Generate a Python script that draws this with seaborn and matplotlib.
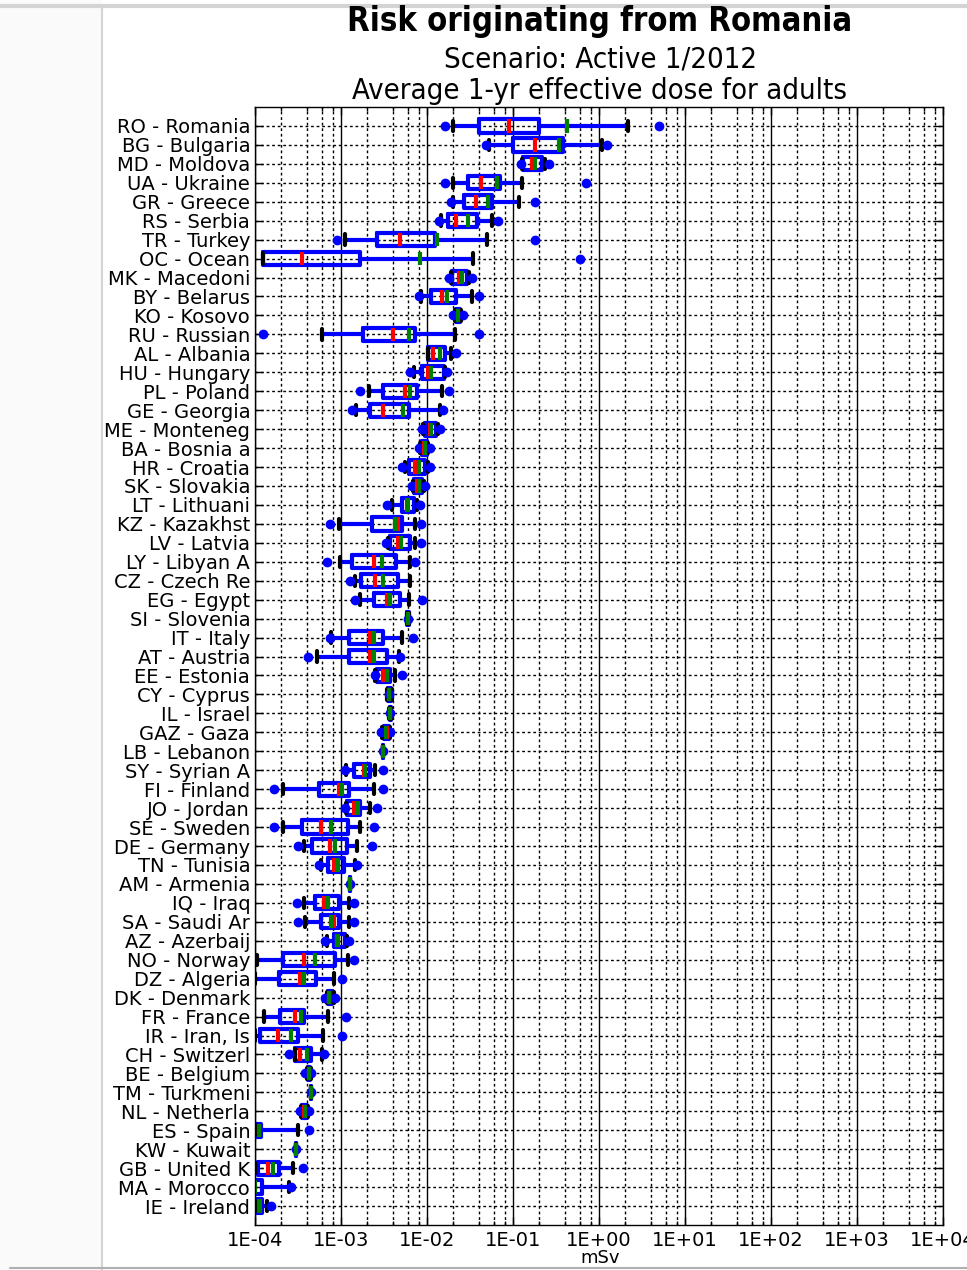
import numpy as np
import matplotlib
matplotlib.use("Agg")
import matplotlib.pyplot as plt
import seaborn as sns
from matplotlib.lines import Line2D
from matplotlib.patches import Rectangle
from matplotlib.ticker import LogLocator, FuncFormatter, NullFormatter

# Countries, top to bottom
labels = [
    "RO - Romania", "BG - Bulgaria", "MD - Moldova", "UA - Ukraine", "GR - Greece",
    "RS - Serbia", "TR - Turkey", "OC - Ocean", "MK - Macedoni", "BY - Belarus",
    "KO - Kosovo", "RU - Russian", "AL - Albania", "HU - Hungary", "PL - Poland",
    "GE - Georgia", "ME - Monteneg", "BA - Bosnia a", "HR - Croatia", "SK - Slovakia",
    "LT - Lithuani", "KZ - Kazakhst", "LV - Latvia", "LY - Libyan A", "CZ - Czech Re",
    "EG - Egypt", "SI - Slovenia", "IT - Italy", "AT - Austria", "EE - Estonia",
    "CY - Cyprus", "IL - Israel", "GAZ - Gaza", "LB - Lebanon", "SY - Syrian A",
    "FI - Finland", "JO - Jordan", "SE - Sweden", "DE - Germany", "TN - Tunisia",
    "AM - Armenia", "IQ - Iraq", "SA - Saudi Ar", "AZ - Azerbaij", "NO - Norway",
    "DZ - Algeria", "DK - Denmark", "FR - France", "IR - Iran, Is", "CH - Switzerl",
    "BE - Belgium", "TM - Turkmeni", "NL - Netherla", "ES - Spain", "KW - Kuwait",
    "GB - United K", "MA - Morocco", "IE - Ireland",
]

# box statistics in mSv
whis_lo = [0.020, 0.052, 0.128, 0.020, 0.020, 0.0145, 0.0011, 0.000125, 0.019, 0.0085,
           0.021, 0.00060, 0.0102, 0.0070, 0.0021, 0.0015, 0.0090, 0.0083, 0.0055, 0.0069,
           0.0039, 0.00096, 0.0035, 0.00098, 0.00147, 0.00165, 0.0058, 0.00076, 0.00053, 0.0025,
           0.0034, 0.0036, 0.0030, 0.0031, 0.00115, 0.00021, 0.00115, 0.00021, 0.00037, 0.00058,
           0.00128, 0.00037, 0.00038, 0.00068, 0.000105, 0.0001, 0.00068, 0.000126, 0.0001, 0.00029,
           0.0004, 0.00045, 0.00034, 0.0001, 0.0003, 0.0001, 0.00008, 0.0001]
q1 = [0.040, 0.10, 0.132, 0.030, 0.027, 0.0174, 0.0026, 0.000125, 0.0195, 0.011,
      0.0215, 0.0018, 0.0104, 0.0088, 0.0031, 0.0022, 0.0095, 0.0087, 0.0061, 0.0071,
      0.0051, 0.0023, 0.0037, 0.00134, 0.0017, 0.0024, 0.0059, 0.00123, 0.00123, 0.0026,
      0.0035, 0.0037, 0.0032, 0.0031, 0.0014, 0.00055, 0.00118, 0.00035, 0.00046, 0.00071,
      0.00128, 0.00050, 0.00058, 0.00082, 0.000212, 0.00019, 0.0007, 0.000197, 0.000113, 0.00029,
      0.00041, 0.00045, 0.00035, 0.000103, 0.0003, 0.000108, 0.00009, 0.000103]
median = [0.089, 0.18, 0.165, 0.043, 0.037, 0.022, 0.0048, 0.00035, 0.0234, 0.0149,
          0.0228, 0.0040, 0.0117, 0.0104, 0.0056, 0.0031, 0.0108, 0.0093, 0.0073, 0.0076,
          0.0058, 0.0046, 0.0046, 0.0024, 0.0025, 0.0034, 0.0060, 0.00215, 0.0022, 0.0031,
          0.0036, 0.0037, 0.0034, 0.0031, 0.00184, 0.00094, 0.0014, 0.00058, 0.00075, 0.00084,
          0.00128, 0.00064, 0.00084, 0.00092, 0.00037, 0.00033, 0.00072, 0.000295, 0.000185, 0.00033,
          0.00042, 0.00045, 0.00037, 0.00011, 0.0003, 0.000142, 0.000098, 0.000115]
mean = [0.42, 0.34, 0.18, 0.065, 0.051, 0.030, 0.0132, 0.0083, 0.0256, 0.017,
        0.0232, 0.0061, 0.0143, 0.0112, 0.0064, 0.0053, 0.0112, 0.0095, 0.0080, 0.0081,
        0.0060, 0.0042, 0.0050, 0.0030, 0.0031, 0.0037, 0.0060, 0.0024, 0.0024, 0.0034,
        0.0036, 0.0037, 0.0033, 0.0031, 0.0019, 0.00103, 0.00156, 0.00077, 0.00086, 0.00092,
        0.00128, 0.00070, 0.00077, 0.0009, 0.0005, 0.00037, 0.00072, 0.00034, 0.00026, 0.0004,
        0.00042, 0.00045, 0.00038, 0.000112, 0.0003, 0.00016, 0.000099, 0.00011]
q3 = [0.20, 0.38, 0.215, 0.071, 0.057, 0.038, 0.0125, 0.00167, 0.029, 0.022,
      0.0245, 0.0073, 0.0163, 0.0156, 0.0077, 0.0061, 0.0128, 0.0100, 0.0095, 0.0087,
      0.0070, 0.0051, 0.0064, 0.0044, 0.0046, 0.0048, 0.0061, 0.0031, 0.0034, 0.0037,
      0.0038, 0.0038, 0.0036, 0.0031, 0.00215, 0.00123, 0.00165, 0.0012, 0.00117, 0.00107,
      0.00128, 0.00096, 0.00096, 0.00112, 0.00086, 0.00051, 0.00078, 0.00037, 0.00032, 0.00045,
      0.00044, 0.00045, 0.0004, 0.000118, 0.0003, 0.00019, 0.00012, 0.00012]
whis_hi = [2.2, 1.07, 0.235, 0.128, 0.119, 0.057, 0.050, 0.034, 0.031, 0.033,
           0.025, 0.0214, 0.019, 0.016, 0.0149, 0.0143, 0.0135, 0.0104, 0.0102, 0.0092,
           0.0076, 0.0073, 0.0073, 0.0064, 0.0063, 0.0061, 0.0062, 0.0051, 0.0047, 0.0043,
           0.0039, 0.0038, 0.0037, 0.0031, 0.0025, 0.0024, 0.0022, 0.00165, 0.00153, 0.00147,
           0.00128, 0.00123, 0.00123, 0.00118, 0.0012, 0.00082, 0.00082, 0.0007, 0.00062, 0.0006,
           0.00045, 0.00045, 0.00041, 0.00032, 0.0003, 0.00028, 0.00025, 0.000137]
fliers = [[0.016, 5.0], [0.048, 1.23], [0.125, 0.26], [0.016, 0.71], [0.019, 0.18],
          [0.0138, 0.067], [0.00089, 0.18], [0.60], [0.018, 0.033], [0.0080, 0.040],
          [0.020, 0.026], [0.000124, 0.040], [0.022], [0.0064, 0.017], [0.00165, 0.018],
          [0.00135, 0.0152], [0.0088, 0.0140], [0.0080, 0.0108], [0.0051, 0.0109], [0.0067, 0.0096],
          [0.0034, 0.0084], [0.00074, 0.0085], [0.0033, 0.0085], [0.00069, 0.0073], [0.00126],
          [0.00147, 0.0087], [0.0060], [0.00074, 0.0069], [0.00041, 0.0049], [0.0025, 0.0051],
          [0.0036], [0.0037], [0.0029, 0.0037], [0.0031], [0.00112, 0.0031],
          [0.000165, 0.0031], [0.00112, 0.0026], [0.000165, 0.0024], [0.00032, 0.0023], [0.00055, 0.00153],
          [0.00128], [0.00031, 0.0014], [0.00032, 0.00143], [0.00066, 0.00123], [0.00143],
          [0.00103], [0.00066, 0.00086], [0.00115], [0.00103], [0.00025, 0.00063],
          [0.00038, 0.00045], [0.00045], [0.00033, 0.00042], [0.00043], [0.0003],
          [0.00036], [0.00026], [0.000154]]

xtick_vals = [1e-4, 1e-3, 1e-2, 1e-1, 1e0, 1e1, 1e2, 1e3, 1e4]

sns.set_theme(style="ticks")
plt.rcParams["font.family"] = ["DejaVu Sans"]
plt.rcParams["text.color"] = "black"
plt.rcParams["axes.labelcolor"] = "black"
plt.rcParams["xtick.color"] = "black"
plt.rcParams["ytick.color"] = "black"

fig = plt.figure(figsize=(9.67, 12.7), dpi=100)
fig.patch.set_facecolor("white")
ax = fig.add_axes([255 / 967, 1 - 1225 / 1270, 688 / 967, 1118 / 1270])

stats = []
for i in range(len(labels)):
    stats.append(dict(label=labels[i], whislo=whis_lo[i], q1=q1[i], med=median[i],
                      mean=mean[i], q3=q3[i], whishi=whis_hi[i], fliers=fliers[i]))

ax.bxp(stats, positions=np.arange(len(labels)), widths=0.7, capwidths=0.55,
       orientation="horizontal", showmeans=True, meanline=True, patch_artist=False,
       boxprops=dict(color="blue", linewidth=3),
       whiskerprops=dict(color="blue", linewidth=3, linestyle="-"),
       capprops=dict(color="black", linewidth=3),
       medianprops=dict(color="red", linewidth=3),
       meanprops=dict(color="green", linewidth=3, linestyle="-"),
       flierprops=dict(marker="o", markerfacecolor="blue", markeredgecolor="blue",
                       markersize=6, linestyle="none"))

ax.set_xscale("log")
ax.set_xlim(1e-4, 1e4)
ax.set_ylim(len(labels), -1)
ax.set_yticks(np.arange(len(labels)))
ax.set_yticklabels(labels, fontsize=14)
ax.xaxis.set_major_locator(LogLocator(base=10, numticks=20))
ax.xaxis.set_minor_locator(LogLocator(base=10, subs=[2, 4, 6, 8], numticks=20))
ax.xaxis.set_major_formatter(FuncFormatter(lambda v, p: "{:.0E}".format(v)))
ax.xaxis.set_minor_formatter(NullFormatter())
ax.set_xticks(xtick_vals)
ax.tick_params(axis="x", labelsize=14, pad=4)
ax.tick_params(which="both", direction="in", top=True, right=True, color="black")
ax.tick_params(which="major", length=6, width=1)
ax.tick_params(which="minor", length=3, width=1)

ax.grid(which="major", axis="x", color="black", linestyle="-", linewidth=1)
ax.grid(which="minor", axis="x", color="black", linestyle=(0, (2, 2)), linewidth=1)
ax.grid(which="major", axis="y", color="black", linestyle=(0, (2, 2)), linewidth=1)
ax.set_axisbelow(True)
for s in ax.spines.values():
    s.set_color("black")
    s.set_linewidth(1)

cx = 600 / 967
fig.text(cx, 1 - 1258 / 1270, "mSv", ha="center", va="center", fontsize=13)
fig.text(cx, 1 - 22 / 1270, "Risk originating from Romania", ha="center", va="center",
         fontsize=23.5, fontweight="bold", fontstretch="condensed")
fig.text(cx, 1 - 60 / 1270, "Scenario: Active 1/2012", ha="center", va="center",
         fontsize=21, fontstretch="condensed")
fig.text(cx, 1 - 91 / 1270, "Average 1-yr effective dose for adults", ha="center",
         va="center", fontsize=21, fontstretch="condensed")

# surrounding window frame
fig.add_artist(Rectangle((0, 0), 102 / 967, 1, transform=fig.transFigure,
                         facecolor="#fafafa", edgecolor="none", zorder=0))
fig.add_artist(Line2D([102 / 967, 102 / 967], [0, 1 - 6 / 1270], transform=fig.transFigure,
                      color="#d4d4d4", linewidth=1.5))
fig.add_artist(Line2D([0, 1], [1 - 6 / 1270, 1 - 6 / 1270], transform=fig.transFigure,
                      color="#d4d4d4", linewidth=3))
fig.add_artist(Line2D([0.01, 1], [2 / 1270, 2 / 1270], transform=fig.transFigure,
                      color="#b0b0b0", linewidth=1.5, zorder=6))

fig.savefig("out.png", dpi=100)
